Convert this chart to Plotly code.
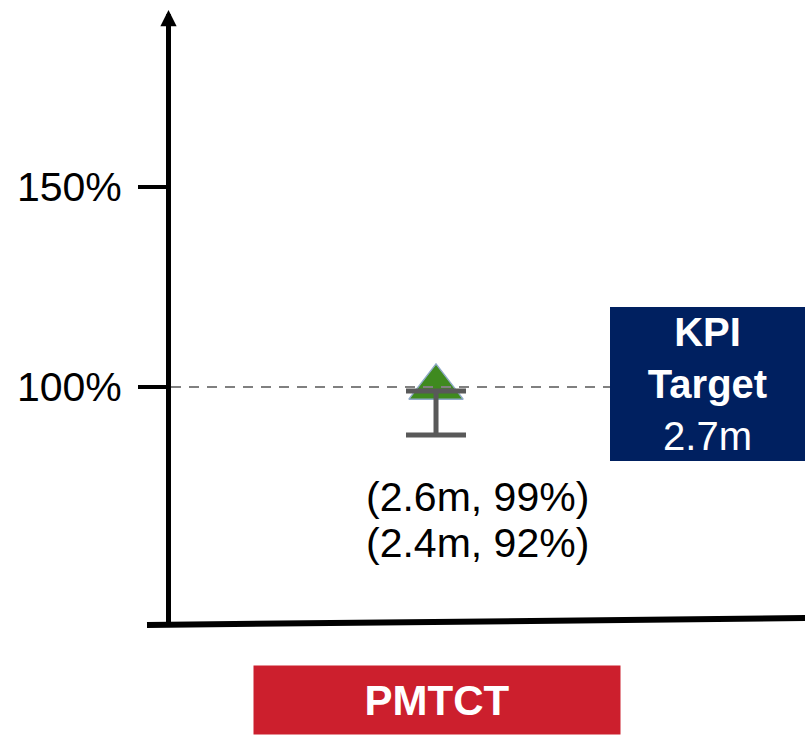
import plotly.graph_objects as go

# ---- data ----
categories = ["PMTCT"]
marker_pct = [99.9]         # triangle marker position
whisker_top_pct = [99]      # top of whisker (2.6m, 99%)
whisker_low_pct = [88]      # bottom of whisker
reach_m = [2.6, 2.4]
label_pct = [99, 92]
target_pct = 100
target_reach = "2.7m"
y_tick_vals = [100, 150]
y_tick_text = ["100%", "150%"]

FONT = "Liberation Sans, Arial, sans-serif"

fig = go.Figure()

# triangle marker
fig.add_trace(go.Scatter(
    x=categories, y=marker_pct, mode="markers",
    marker=dict(symbol="triangle-up", size=47, color="#3F8A1F",
                line=dict(color="#8FAAC8", width=1.5)),
    cliponaxis=False, showlegend=False, hoverinfo="skip",
))

# whisker drawn above marker
fig.add_trace(go.Scatter(
    x=categories, y=whisker_top_pct, mode="markers",
    marker=dict(size=1, color="rgba(0,0,0,0)"),
    error_y=dict(type="data", symmetric=False,
                 array=[0 for _ in whisker_top_pct],
                 arrayminus=[a - l for a, l in zip(whisker_top_pct, whisker_low_pct)],
                 color="#595959", thickness=5, width=30),
    cliponaxis=False, showlegend=False, hoverinfo="skip",
))

L, T, B = 171, 30, 110
W, H = 805, 735
plot_w = W - L
plot_h = H - T - B

# target dashed line
fig.add_shape(type="line", xref="paper", yref="y",
              x0=0, x1=(610 - L) / plot_w, y0=target_pct, y1=target_pct,
              line=dict(color="#808080", width=2, dash="10px,8px"), layer="above")

# x-axis baseline (slightly tilted, extends left of y axis)
fig.add_shape(type="line", xref="paper", yref="paper",
              x0=-24 / plot_w, x1=1, y0=0, y1=7 / plot_h,
              line=dict(color="black", width=6), layer="above")

# y-axis arrow head
fig.add_annotation(xref="paper", yref="paper", x=-2.5 / plot_w, y=1 + 20 / plot_h,
                   ax=0, ay=24, text="", showarrow=True,
                   arrowhead=2, arrowsize=0.65, arrowwidth=5, arrowcolor="black")

# data labels
for i, (r, p) in enumerate(zip(reach_m, label_pct)):
    fig.add_annotation(xref="paper", yref="y", x=(477 - L) / plot_w,
                       y=[72.5, 61.0][i], text=f"({r}m, {p}%)", showarrow=False,
                       font=dict(family=FONT, size=41, color="black"),
                       xanchor="center", yanchor="middle")

# KPI target box
fig.add_annotation(xref="paper", yref="y", x=(707.5 - L) / plot_w, y=100.75,
                   text=f"<b>KPI</b><br><b>Target</b><br>{target_reach}",
                   showarrow=False, bgcolor="#002060", width=195, height=154,
                   borderpad=0, borderwidth=0, align="center",
                   font=dict(family=FONT, size=40, color="white"),
                   xanchor="center", yanchor="middle")

# category label box
fig.add_annotation(xref="x", yref="paper", x=categories[0], xshift=1,
                   y=(625 - 700) / plot_h,
                   text=f"<b>{categories[0]}</b>", showarrow=False,
                   bgcolor="#CC1F2D", width=366, height=68, borderpad=0,
                   font=dict(family=FONT, size=42, color="white"),
                   xanchor="center", yanchor="middle")

fig.update_layout(
    width=W, height=H,
    margin=dict(l=L, r=0, t=T, b=B, pad=0),
    paper_bgcolor="white", plot_bgcolor="white",
    showlegend=False,
    xaxis=dict(type="category", range=[-0.418, 0.582], showline=False,
               showticklabels=False, showgrid=False, zeroline=False, ticks=""),
    yaxis=dict(range=[40.5, 189.25], tickvals=y_tick_vals, ticktext=y_tick_text,
               showline=True, linecolor="black", linewidth=5,
               ticks="outside", ticklen=28, tickwidth=4, tickcolor="black",
               ticklabelstandoff=8,
               tickfont=dict(family=FONT, size=41, color="black"),
               showgrid=False, zeroline=False),
)

fig.write_html("out.html", config={"displayModeBar": False},
               post_script="document.body.style.margin='0';document.body.style.overflow='hidden';")
